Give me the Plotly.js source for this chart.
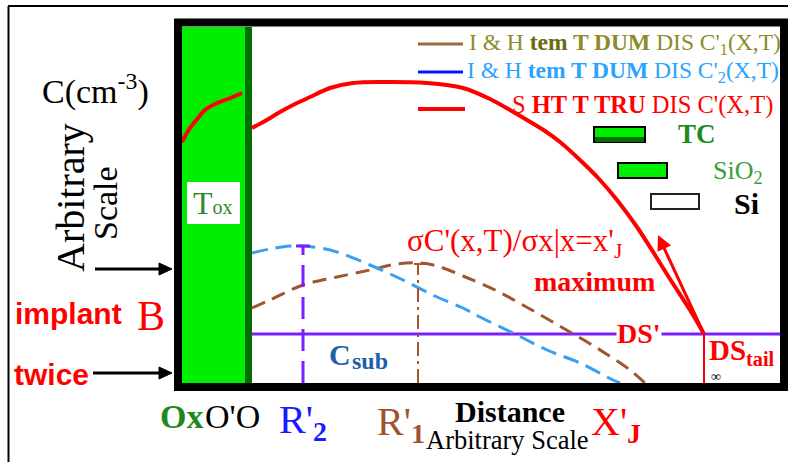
<!DOCTYPE html>
<html>
<head>
<meta charset="utf-8">
<script src="https://cdn.plot.ly/plotly-3.0.1.min.js"></script>
<style>html,body{margin:0;padding:0;background:#fff;}</style>
</head>
<body>
<div id="chart" style="width:788px;height:462px;"></div>
<script>
// ---- data (arbitrary units: distance, concentration) ----
const distOx   = [1, 9, 17, 24, 34, 47, 61];
const concOx   = [241, 255, 265, 273, 279, 284, 290];
const distSi   = [71, 84, 99, 114, 129, 149, 172, 199, 246, 282, 309, 329, 346, 364, 379, 399, 419, 436, 456, 474, 489, 509, 523];
const concTrue = [255, 262, 271, 279, 286, 295, 300, 301, 300, 295, 284, 273, 263, 252, 241, 223, 203, 183, 156, 128, 104, 73, 49];
const distC2   = [71, 89, 109, 122, 139, 156, 189, 222, 256, 282, 299, 332, 366, 399, 432, 439];
const concC2   = [130, 134, 137, 137, 135, 131, 118, 103, 86, 75, 66, 50, 33, 20, 3, 0];
const distC1   = [71, 89, 122, 156, 189, 216, 239, 256, 282, 316, 349, 382, 416, 449, 464];
const concC1   = [75, 83, 98, 106, 113, 119, 120, 117, 107, 92, 74, 55, 35, 13, 0];
const dsLineX  = [71, 599];
const dsLevel  = [49, 49];
const xR2 = 122, cR2 = 137;
const xR1 = 237, cR1 = 119;
const xJ  = 523, cJ = 49;
const oxideEnd = 64, interfaceEnd = 71;
const xMax = 599, yMax = 356;

// ---- helpers for pixel placement of decorations ----
const PX = x => (x - 181) / 599;
const PY = y => (383 - y) / 356;
const SERIF = 'Liberation Serif, Times New Roman, serif';
const SANS = 'Liberation Sans, Arial, sans-serif';

function txt(x, y, text, size, color, opts) {
  return Object.assign({
    xref: 'paper', yref: 'paper', x: PX(x), y: PY(y), text: text,
    showarrow: false, xanchor: 'left', yanchor: 'middle',
    font: {family: SERIF, size: size, color: color}
  }, opts || {});
}
function blackArrow(x0, x1, y) {
  return [
    {type: 'line', xref: 'paper', yref: 'paper', x0: PX(x0), x1: PX(x1 - 10), y0: PY(y), y1: PY(y), line: {color: '#000', width: 3}},
    {type: 'path', xref: 'paper', yref: 'paper',
     path: 'M ' + PX(x1) + ' ' + PY(y) + ' L ' + PX(x1 - 13) + ' ' + PY(y - 6) + ' L ' + PX(x1 - 13) + ' ' + PY(y + 6) + ' Z',
     fillcolor: '#000', line: {color: '#000', width: 1}}
  ];
}

const traces = [
  {x: distOx, y: concOx, mode: 'lines', line: {color: '#ff0000', width: 4, shape: 'spline'}},
  {x: dsLineX, y: dsLevel, mode: 'lines', line: {color: '#7b1fff', width: 3}},
  {x: distC1, y: concC1, mode: 'lines', line: {color: '#a0562d', width: 3, dash: '14px,8px', shape: 'spline'}},
  {x: distC2, y: concC2, mode: 'lines', line: {color: '#3a9ff0', width: 3, dash: '16px,8px', shape: 'spline'}},
  {x: [xR2, xR2], y: [0, cR2], mode: 'lines', line: {color: '#7b1fff', width: 3, dash: '22px,10px'}},
  {x: [xR2 - 7, xR2 + 7], y: [cR2, cR2], mode: 'lines', line: {color: '#7b1fff', width: 3}},
  {x: [xR1, xR1], y: [0, cR1], mode: 'lines', line: {color: '#a0562d', width: 2, dash: '14px,5px,3px,5px'}},
  {x: [xR1 - 4, xR1 + 9], y: [cR1, cR1], mode: 'lines', line: {color: '#a0562d', width: 2}},
  {x: [xJ, xJ], y: [0, cJ], mode: 'lines', line: {color: '#ff0000', width: 2}},
  {x: distSi, y: concTrue, mode: 'lines', line: {color: '#ff0000', width: 4, shape: 'spline', smoothing: 0.8}}
];

const shapes = [
  // oxide and interface
  {type: 'rect', xref: 'x', yref: 'y', x0: 0, x1: oxideEnd, y0: 0, y1: yMax, fillcolor: '#00ee00', line: {width: 0}, layer: 'below'},
  {type: 'rect', xref: 'x', yref: 'y', x0: oxideEnd, x1: interfaceEnd, y0: 0, y1: yMax, fillcolor: '#006f00', line: {width: 0}, layer: 'below'},
  {type: 'rect', xref: 'paper', yref: 'paper', x0: PX(187), x1: PX(240), y0: PY(224), y1: PY(182), fillcolor: '#ffffff', line: {width: 0}, layer: 'above'},
  // plot frame
  {type: 'rect', xref: 'paper', yref: 'paper', x0: PX(178), x1: PX(784), y0: PY(387), y1: PY(22.5), line: {color: '#000', width: 8}, layer: 'above'},
  // outer page frame
  {type: 'line', xref: 'paper', yref: 'paper', x0: PX(8), x1: PX(790), y0: PY(6), y1: PY(6), line: {color: '#000', width: 2}},
  {type: 'line', xref: 'paper', yref: 'paper', x0: PX(8.5), x1: PX(8.5), y0: PY(6), y1: PY(464), line: {color: '#000', width: 2}},
  // legend lines
  {type: 'line', xref: 'paper', yref: 'paper', x0: PX(418), x1: PX(463), y0: PY(44), y1: PY(44), line: {color: '#9c6b3c', width: 3}},
  {type: 'line', xref: 'paper', yref: 'paper', x0: PX(418), x1: PX(463), y0: PY(72), y1: PY(72), line: {color: '#0a14ff', width: 3}},
  {type: 'line', xref: 'paper', yref: 'paper', x0: PX(418), x1: PX(465), y0: PY(109), y1: PY(109), line: {color: '#ff0000', width: 4}},
  // material legend boxes
  {type: 'rect', xref: 'paper', yref: 'paper', x0: PX(594), x1: PX(645), y0: PY(142), y1: PY(127), fillcolor: '#00ee00', line: {color: '#000', width: 2}},
  {type: 'rect', xref: 'paper', yref: 'paper', x0: PX(595), x1: PX(644), y0: PY(142), y1: PY(137), fillcolor: '#006f00', line: {width: 0}},
  {type: 'rect', xref: 'paper', yref: 'paper', x0: PX(618), x1: PX(667), y0: PY(178), y1: PY(163), fillcolor: '#00ee00', line: {color: '#000', width: 2}},
  {type: 'rect', xref: 'paper', yref: 'paper', x0: PX(651), x1: PX(699), y0: PY(209), y1: PY(194), fillcolor: '#ffffff', line: {color: '#222', width: 2}}
].concat(blackArrow(95, 172, 269), blackArrow(93, 172, 373));

const annotations = [
  txt(467, 44, "I &amp; H <b><span style='color:#6b6b10'>tem</span> T DUM</b> DIS C'<sub>1</sub>(X,T)", 23.5, '#8c8c2c'),
  txt(465, 72, "I &amp; H <b>tem T DUM</b> DIS C'<sub>2</sub>(X,T)", 23.5, '#2aa4ff'),
  txt(510, 105, "S <b>HT T TRU</b> DIS C'(X,T)", 24.5, '#ff0000'),
  txt(697, 134, '<b>TC</b>', 27, '#1e8a1e', {xanchor: 'center'}),
  txt(738, 172, 'SiO<sub>2</sub>', 26, '#3a9e3a', {xanchor: 'center'}),
  txt(746, 203, '<b>Si</b>', 30, '#000', {xanchor: 'center'}),
  txt(405, 243, "σC'(x,T)/σx|x=x'<sub>J</sub>", 31, '#ff0000'),
  txt(532, 281, '<b>maximum</b>', 28, '#ff0000'),
  txt(616, 333, "<b>DS'</b>", 28, '#ff0000', {bgcolor: '#ffffff', borderpad: 0}),
  txt(707, 352, '<b>DS<sub>tail</sub></b>', 29, '#ff0000'),
  txt(716, 376, '∞', 14, '#000', {xanchor: 'center'}),
  txt(327, 354, '<b>C</b>', 30, '#2160a8'),
  txt(350, 361, '<b>sub</b>', 24, '#2160a8'),
  txt(213, 203, "T<span style='font-size:20px'>ox</span>", 32, '#2f8a2f', {xanchor: 'center'}),
  txt(40, 89, 'C(cm<sup>-3</sup>)', 34, '#000'),
  txt(70, 198, 'Arbitrary', 40, '#000', {xanchor: 'center', textangle: -90}),
  txt(105, 203, 'Scale', 34, '#000', {xanchor: 'center', textangle: -90}),
  txt(13, 313, '<b>implant</b>', 30, '#ff0000', {font: {family: SANS, size: 30, color: '#ff0000'}}),
  txt(135, 316, 'B', 42, '#ff0000'),
  txt(12, 374, '<b>twice</b>', 30, '#ff0000', {font: {family: SANS, size: 30, color: '#ff0000'}}),
  txt(158, 416, '<b>Ox</b>', 34, '#1e8a1e'),
  txt(203, 416, "O'O", 34, '#000'),
  txt(277, 422, "R'<sub><b>2</b></sub>", 40, '#1a1aff'),
  txt(375, 424, "R'<sub><b>1</b></sub>", 40, '#a0522d'),
  txt(453, 411, '<b>Distance</b>', 30, '#000'),
  txt(424, 440, 'Arbitrary Scale', 26.5, '#000'),
  txt(589, 424, "X'<sub><b>J</b></sub>", 40, '#ff0000'),
  // gradient arrow
  {xref: 'x', yref: 'y', axref: 'x', ayref: 'y', x: 477, y: 148, ax: xJ, ay: cJ, text: '', showarrow: true, arrowhead: 2, arrowsize: 1, arrowwidth: 3, arrowcolor: '#ff0000'}
];

const layout = {
  width: 788, height: 462, autosize: false,
  margin: {l: 181, r: 8, t: 27, b: 79, pad: 0},
  paper_bgcolor: '#ffffff', plot_bgcolor: '#ffffff',
  showlegend: false,
  xaxis: {range: [0, xMax], visible: false, fixedrange: true},
  yaxis: {range: [0, yMax], visible: false, fixedrange: true},
  shapes: shapes,
  annotations: annotations
};

Plotly.newPlot('chart', traces, layout, {displayModeBar: false, staticPlot: true});
</script>
</body>
</html>
